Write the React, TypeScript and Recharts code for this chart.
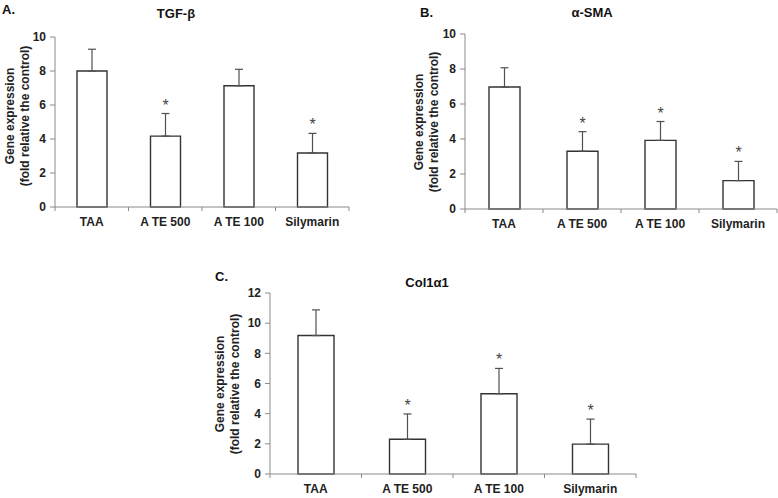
import React from 'react';
import { ComposedChart, Bar, XAxis, YAxis, ErrorBar, LabelList } from 'recharts';

const groups = ['TAA', 'A TE 500', 'A TE 100', 'Silymarin'];

const tgfMean = [8.0, 4.17, 7.13, 3.18];
const tgfErr = [1.28, 1.33, 0.97, 1.15];
const tgfSig = [false, true, false, true];

const smaMean = [6.97, 3.3, 3.92, 1.62];
const smaErr = [1.1, 1.12, 1.08, 1.1];
const smaSig = [false, true, true, true];

const colMean = [9.18, 2.3, 5.32, 1.98];
const colErr = [1.7, 1.68, 1.68, 1.66];
const colSig = [false, true, true, true];

const tenTicks = [0, 2, 4, 6, 8, 10];
const twelveTicks = [0, 2, 4, 6, 8, 10, 12];

const FONT = '"Liberation Sans", Arial, sans-serif';
const AXIS = '#8a8a8a';
const DARK = '#333';

const buildRows = (mean: number[], err: number[], sig: boolean[]) =>
  groups.map((g, i) => ({ name: g, mean: mean[i], range: [0, err[i]], err: err[i], sig: sig[i] }));

// category tick: label plus boundary tick marks like the Excel axis
const GroupTick = (props: any) => {
  const { x, y, payload, index, visibleTicksCount, band } = props;
  const half = band / 2;
  return (
    <g>
      <line x1={x - half} x2={x - half} y1={y} y2={y + 4} stroke={AXIS} />
      {index === visibleTicksCount - 1 && (
        <line x1={x + half} x2={x + half} y1={y} y2={y + 4} stroke={AXIS} />
      )}
      <text x={x} y={y + 19} textAnchor="middle" fontSize={12} fontWeight="bold" fill="#222" fontFamily={FONT}>
        {payload.value}
      </text>
    </g>
  );
};

interface PanelProps {
  rows: any[];
  width: number;
  height: number;
  top: number;
  right: number;
  xHeight: number;
  barSize: number;
  ticks: number[];
}

function Panel({ rows, width, height, top, right, xHeight, barSize, ticks }: PanelProps) {
  const yWidth = 55;
  const band = (width - yWidth - right) / rows.length;
  const maxTick = ticks[ticks.length - 1];

  const star = (p: any) => {
    const { x, y, width: w, height: h, value, index } = p;
    const row = rows[index];
    if (!row || !row.sig) return null;
    const perUnit = h / value;
    const top = y - row.err * perUnit;
    return (
      <text x={x + w / 2} y={top - 3} textAnchor="middle" fontSize={16} fill="#444" fontFamily={FONT}>
        *
      </text>
    );
  };

  return (
    <ComposedChart width={width} height={height} data={rows} margin={{ top, right, bottom: 0, left: 0 }}>
      <XAxis
        dataKey="name"
        height={xHeight}
        stroke={AXIS}
        tickLine={false}
        tickSize={0}
        tickMargin={0}
        interval={0}
        tick={<GroupTick band={band} />}
      />
      <YAxis
        width={yWidth}
        domain={[0, maxTick]}
        ticks={ticks}
        interval={0}
        stroke={AXIS}
        tickSize={5}
        tickMargin={4}
        tick={{ fontSize: 12, fontWeight: 'bold', fill: '#222', fontFamily: FONT }}
      />
      <Bar dataKey="mean" fill="#fff" stroke={DARK} strokeWidth={1.4} barSize={barSize} isAnimationActive={false}>
        <ErrorBar dataKey="range" width={4} stroke="#505050" strokeWidth={1.2} direction="y" />
        <LabelList dataKey="mean" content={star} />
      </Bar>
    </ComposedChart>
  );
}

const titleStyle = { fontFamily: FONT, fontWeight: 'bold' as const, fontSize: 13, fill: '#111' };
const axisTitle = { fontFamily: FONT, fontWeight: 'bold' as const, fontSize: 12, fill: '#222' };

function YTitle({ x, y }: { x: number; y: number }) {
  return (
    <g>
      <text transform={`translate(${x},${y}) rotate(-90)`} textAnchor="middle" style={axisTitle}>
        Gene expression
      </text>
      <text transform={`translate(${x + 15},${y}) rotate(-90)`} textAnchor="middle" style={axisTitle}>
        (fold relative the control)
      </text>
    </g>
  );
}

export default function App() {
  return (
    <div style={{ position: 'absolute', left: 0, top: 0, width: 778, height: 498, background: '#fff', fontFamily: FONT }}>
      <div style={{ position: 'absolute', left: 0, top: 0 }}>
        <Panel rows={buildRows(tgfMean, tgfErr, tgfSig)} width={360} height={235} top={37} right={11} xHeight={28} barSize={30} ticks={tenTicks} />
      </div>
      <div style={{ position: 'absolute', left: 410, top: 0 }}>
        <Panel rows={buildRows(smaMean, smaErr, smaSig)} width={368} height={235} top={34} right={1} xHeight={26} barSize={31} ticks={tenTicks} />
      </div>
      <div style={{ position: 'absolute', left: 215, top: 260 }}>
        <Panel rows={buildRows(colMean, colErr, colSig)} width={430} height={238} top={33} right={9} xHeight={24} barSize={36} ticks={twelveTicks} />
      </div>
      <svg width={778} height={498} style={{ position: 'absolute', left: 0, top: 0, pointerEvents: 'none' }}>
        <text x={2} y={14} style={titleStyle}>A.</text>
        <text x={176} y={18} textAnchor="middle" style={titleStyle}>TGF-β</text>
        <YTitle x={14} y={116} />

        <text x={420} y={17} style={titleStyle}>B.</text>
        <text x={592} y={17} textAnchor="middle" style={titleStyle}>α-SMA</text>
        <YTitle x={423} y={122} />

        <text x={215} y={281} style={titleStyle}>C.</text>
        <text x={427} y={287} textAnchor="middle" style={titleStyle}>Col1α1</text>
        <YTitle x={224} y={384} />
      </svg>
    </div>
  );
}
